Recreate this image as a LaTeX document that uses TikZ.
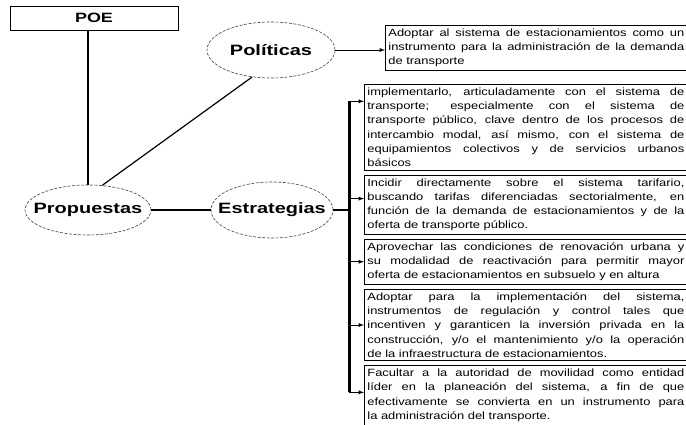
\documentclass[tikz,border=0pt]{standalone}
\usepackage{fontspec}
\setmainfont{Liberation Sans}
\newfontfamily\txtfont[FakeStretch=1.23]{Liberation Sans}
\newfontfamily\lblfont[FakeStretch=1.33]{Liberation Sans}
\usetikzlibrary{positioning,shapes.geometric,calc}
\tolerance=10000 \hbadness=10000 \hyphenpenalty=10000

\begin{document}
\begin{tikzpicture}[>=latex, x=1pt, y=-1pt,
	el/.style={draw=black!75, line width=0.6pt, dash pattern=on 3pt off 1.5pt, ellipse, inner sep=0pt, font=\lblfont\fontsize{15}{18}\selectfont\bfseries, execute at begin node={\hbox to 0pt\bgroup\hss}, execute at end node={\hss\egroup}},
	bx/.style={draw, line width=0.8pt, align=justify, inner xsep=3pt, inner ysep=3.5pt, font=\txtfont\fontsize{10.5}{14.2}\selectfont}]
	\useasboundingbox (0,0) rectangle (686,425);
	\node[draw, line width=0.8pt, minimum width=168pt, minimum height=24pt, font=\lblfont\fontsize{13.5}{16}\selectfont\bfseries] (poe) at (94,18) {POE};
	\node[el, minimum width=126pt, minimum height=50pt] (prop) at (88,210) {Propuestas};
	\node[el, minimum width=128pt, minimum height=56pt] (pol) at (271,50) {Políticas};
	\node[el, minimum width=122pt, minimum height=56pt] (est) at (272,210) {Estrategias};
	\node[bx, text width=296pt, anchor=north west] (b1) at (385,25) {Adoptar al sistema de estacionamientos como un\linebreak instrumento para la administración de la demanda\linebreak de transporte};
	\node[bx, text width=317pt, anchor=north west] (b2) at (364,84) {implementarlo, articuladamente con el sistema de\linebreak transporte; especialmente con el sistema de\linebreak transporte público, clave dentro de los procesos de\linebreak intercambio modal, así mismo, con el sistema de\linebreak equipamientos colectivos y de servicios urbanos\linebreak básicos};
	\node[bx, text width=317pt, below=4pt of b2] (b3) {Incidir directamente sobre el sistema tarifario,\linebreak buscando tarifas diferenciadas sectorialmente, en\linebreak función de la demanda de estacionamientos y de la\linebreak oferta de transporte público.};
	\node[bx, text width=317pt, below=4pt of b3] (b4) {Aprovechar las condiciones de renovación urbana y\linebreak su modalidad de reactivación para permitir mayor\linebreak oferta de estacionamientos en subsuelo y en altura};
	\node[bx, text width=317pt, below=4pt of b4] (b5) {Adoptar para la implementación del sistema,\linebreak instrumentos de regulación y control tales que\linebreak incentiven y garanticen la inversión privada en la\linebreak construcción, y/o el mantenimiento y/o la operación\linebreak de la infraestructura de estacionamientos.};
	\node[bx, text width=317pt, below=4pt of b5] (b6) {Facultar a la autoridad de movilidad como entidad\linebreak líder en la planeación del sistema, a fin de que\linebreak efectivamente se convierta en un instrumento para\linebreak la administración del transporte.};
	\draw[line width=2pt] (prop.north |- poe.south) -- (prop.north);
	\draw[line width=1.2pt] (prop.60) -- (pol.235);
	\draw[line width=1.2pt] (prop) -- (est);
	\draw[->, line width=0.9pt] (pol.east) -- (pol.east -| b1.west);
	\coordinate (j) at ($(est.east)+(16,0)$);
	\foreach \i/\f in {2/0.2, 3/0.4, 4/0.5, 5/0.5, 6/0.45}{
		\coordinate (a\i) at ($(b\i.north west)!\f!(b\i.south west)$);
		\draw[->, line width=0.9pt] (j |- a\i) -- (a\i);}
	\draw[line width=2.4pt] (est) -- (j) (j |- a2) -- (j |- a6);
\end{tikzpicture}
\end{document}
